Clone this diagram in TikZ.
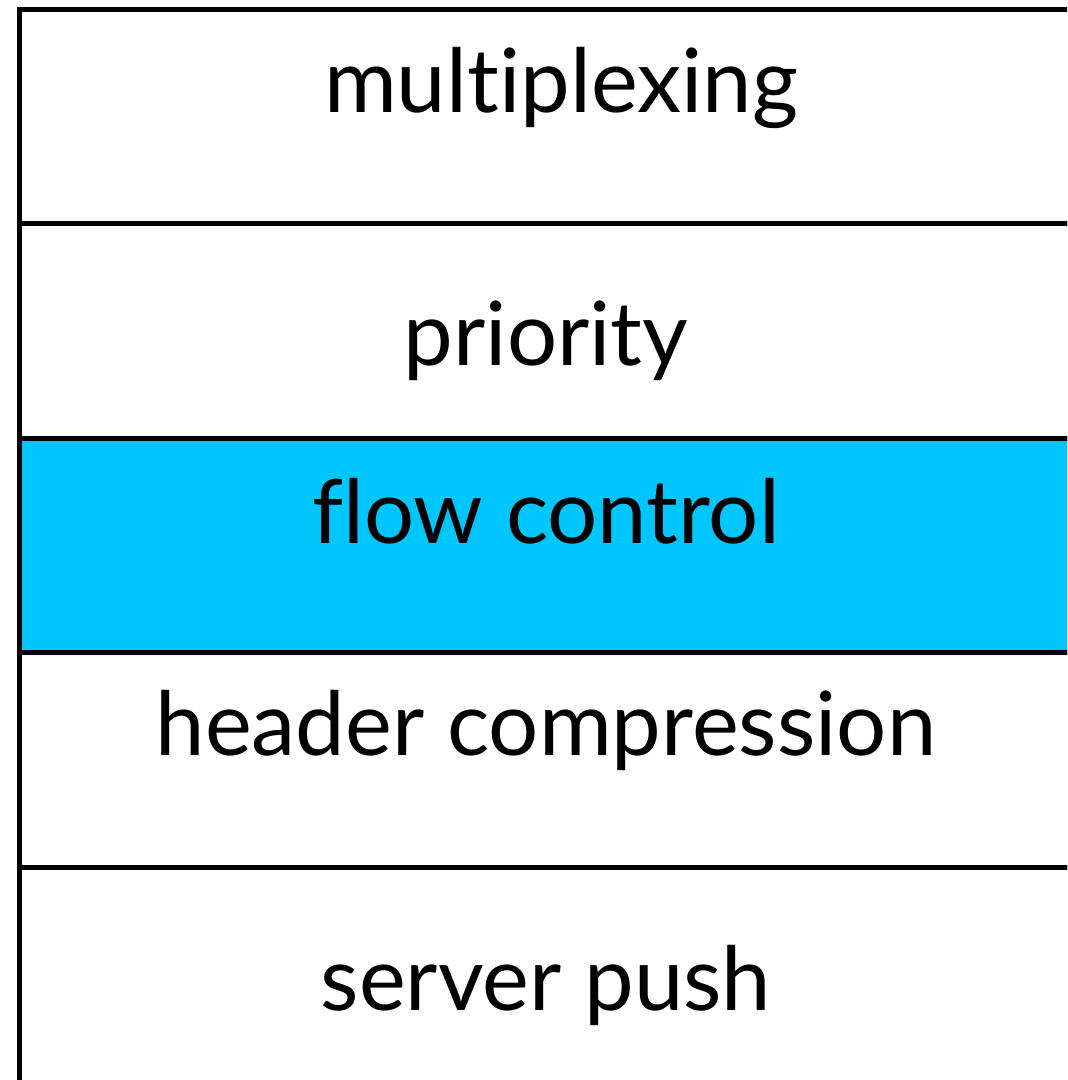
\documentclass[tikz,border=0pt]{standalone}
\usepackage{fontspec}
\setmainfont{Lato}[Ligatures=NoCommon]
\usepackage{tikz}
\usetikzlibrary{positioning}
\definecolor{flowCyan}{HTML}{00C6FD}

\begin{document}
\begin{tikzpicture}[x=0.025cm, y=-0.025cm,
    layer/.style={draw=black, line width=3.6pt, minimum width=26.31cm, minimum height=5.36cm, inner sep=0pt, outer sep=0pt, anchor=north west},
    lbl/.style={anchor=base, inner sep=0pt, font=\fontsize{63}{72}\selectfont}
]
\useasboundingbox (0,0) rectangle (1067,1080);
\clip (0,0) rectangle (1067,1080);
% Layers
\node[layer] (mux) at (19.5,9.5) {};
\node[layer, below=0pt of mux] (prio) {};
\node[layer, below=0pt of prio, fill=flowCyan] (flow) {};
\node[layer, below=0pt of flow] (hdr) {};
\node[layer, below=0pt of hdr, minimum height=6cm] (push) {};
% Labels
\node[lbl] (muxtext) at (561,112) {multiplexing};
\node[lbl] (priotext) at (546,365) {priority};
\node[lbl] (flowtext) at (546,543) {flow control};
\node[lbl] (hdrtext) at (546,755) {header compression};
\node[lbl] (pushtext) at (546,1010) {server push};
\end{tikzpicture}
\end{document}
